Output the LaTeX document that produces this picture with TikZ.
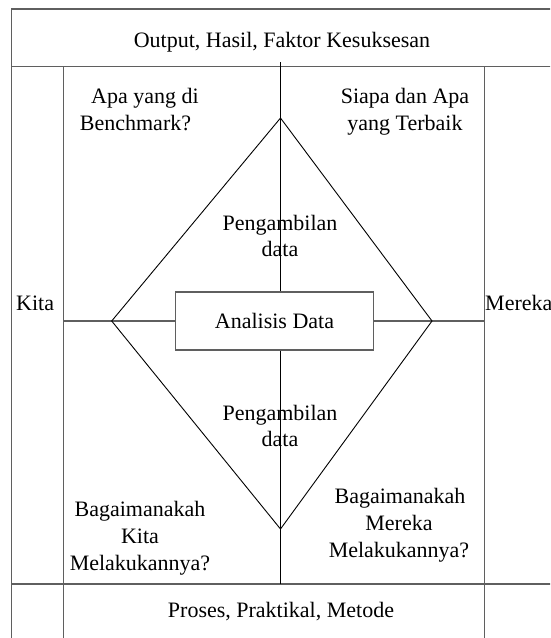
\documentclass[tikz,border=0pt]{standalone}
\usepackage{fontspec}
\setmainfont{Liberation Serif}
\definecolor{framegray}{RGB}{95,95,95}
\begin{document}
\begin{tikzpicture}[x=1pt,y=-1pt,
  frame/.style={draw=framegray,line width=1.3pt},
  thinline/.style={draw=black,line width=0.9pt},
  lbl/.style={anchor=base,inner sep=0pt,font=\fontsize{22}{26.5}\selectfont},
]
\useasboundingbox (0,0) rectangle (550,638);
\clip (0,0) rectangle (550,638);
\fill[white] (0,0) rectangle (550,638);
% frame coordinates
\coordinate (TL) at (11.3,9);
\coordinate (TR) at (560,9);
\coordinate (BL) at (11.3,645);
\coordinate (B1L) at (11.3,66.7);
\coordinate (B1R) at (560,66.7);
\coordinate (B2L) at (11.3,584);
\coordinate (B2R) at (560,584);
\coordinate (ILt) at (63.7,66.7);
\coordinate (ILb) at (63.7,645);
\coordinate (IRt) at (484.3,66.7);
\coordinate (IRb) at (484.3,645);
\coordinate (Ct) at (280.5,62);
\coordinate (Cb) at (280.5,584);
% diamond
\coordinate (DT) at (280.5,118);
\coordinate (DL) at (111.7,321);
\coordinate (DB) at (280.5,529);
\coordinate (DR) at (432,321);
% frame
\draw[frame] (BL) -- (TL) -- (TR);
\draw[frame] (B1L) -- (B1R);
\draw[frame] (B2L) -- (B2R);
\draw[frame] (ILt) -- (ILb);
\draw[frame] (IRt) -- (IRb);
% central box
\node[frame,fill=white,minimum width=197.6pt,minimum height=58pt,inner sep=0pt,
      font=\fontsize{22}{26.5}\selectfont] (box) at (274.5,321) {Analisis Data};
\draw[frame] (ILt |- box.west) -- (box.west);
\draw[frame] (box.east) -- (IRt |- box.east);
% centre vertical and diamond
\draw[thinline] (Ct) -- (Ct |- box.north);
\draw[thinline] (Ct |- box.south) -- (Cb);
\draw[thinline] (DT) -- (DR) -- (DB) -- (DL) -- cycle;
% texts
\node[lbl] (top) at (282,47) {Output, Hasil, Faktor Kesuksesan};
\node[lbl] (bot) at (281,617) {Proses, Praktikal, Metode};
\node[lbl] (ap1) at (145,103) {Apa yang di};
\node[lbl] (ap2) at (135.5,130) {Benchmark?};
\node[lbl] (sp1) at (405,103) {Siapa dan Apa};
\node[lbl] (sp2) at (405,130) {yang Terbaik};
\node[lbl] (pu1) at (280,230) {Pengambilan};
\node[lbl] (pu2) at (280,256.5) {data};
\node[lbl] (pl1) at (280,420) {Pengambilan};
\node[lbl] (pl2) at (280,446.5) {data};
\node[lbl,anchor=base west] (kita) at (16,310.7) {Kita};
\node[lbl,anchor=base west] (mereka) at (485,310.7) {Mereka};
\node[lbl] (bl1) at (140,516) {Bagaimanakah};
\node[lbl] (bl2) at (140,543) {Kita};
\node[lbl] (bl3) at (140,570) {Melakukannya?};
\node[lbl] (br1) at (400,503) {Bagaimanakah};
\node[lbl] (br2) at (399,530) {Mereka};
\node[lbl] (br3) at (399,557) {Melakukannya?};
\end{tikzpicture}
\end{document}
